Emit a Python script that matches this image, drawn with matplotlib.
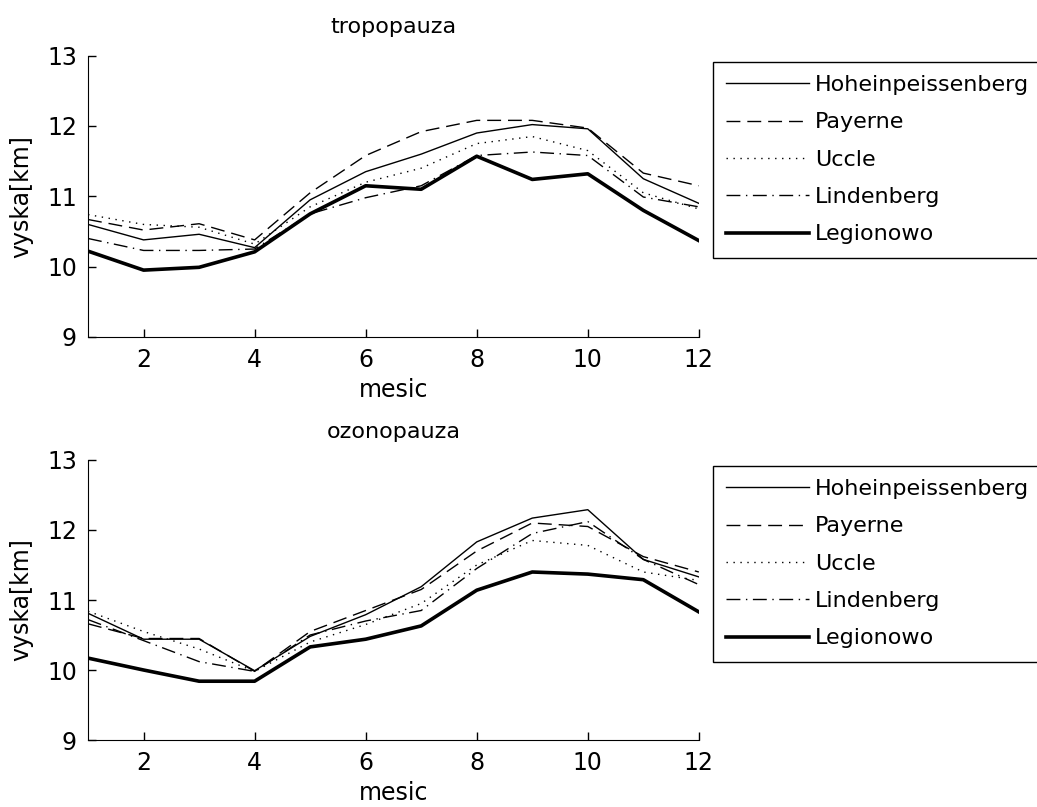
import numpy as np
import matplotlib.pyplot as plt

plt.rcParams['font.family'] = ['DejaVu Sans']
plt.rcParams['font.size'] = 17

# mesice
months = np.arange(1, 13)
stations = ['Hoheinpeissenberg', 'Payerne', 'Uccle', 'Lindenberg', 'Legionowo']

# tropopauza [km]
tropo_hohein = [10.60, 10.38, 10.46, 10.27, 10.95, 11.35, 11.60, 11.90, 12.02, 11.96, 11.25, 10.90]
tropo_payerne = [10.67, 10.52, 10.61, 10.38, 11.05, 11.58, 11.92, 12.08, 12.08, 11.97, 11.33, 11.15]
tropo_uccle = [10.74, 10.60, 10.56, 10.32, 10.85, 11.20, 11.40, 11.75, 11.85, 11.65, 11.05, 10.82]
tropo_lindenberg = [10.40, 10.23, 10.23, 10.25, 10.75, 10.98, 11.15, 11.58, 11.63, 11.58, 10.99, 10.85]
tropo_legionowo = [10.22, 9.95, 9.99, 10.21, 10.75, 11.15, 11.10, 11.57, 11.24, 11.32, 10.80, 10.37]

# ozonopauza [km]
ozono_hohein = [10.81, 10.44, 10.44, 9.99, 10.48, 10.79, 11.19, 11.83, 12.17, 12.29, 11.58, 11.33]
ozono_payerne = [10.66, 10.45, 10.45, 9.98, 10.55, 10.85, 11.15, 11.70, 12.10, 12.05, 11.62, 11.40]
ozono_uccle = [10.84, 10.55, 10.30, 9.98, 10.40, 10.65, 10.95, 11.50, 11.85, 11.78, 11.40, 11.28]
ozono_lindenberg = [10.72, 10.42, 10.12, 9.98, 10.50, 10.70, 10.85, 11.45, 11.95, 12.12, 11.58, 11.22]
ozono_legionowo = [10.17, 10.00, 9.84, 9.84, 10.33, 10.44, 10.63, 11.14, 11.40, 11.37, 11.29, 10.83]

styles = [
    dict(lw=1.0, ls='-'),
    dict(lw=1.0, dashes=(10, 5)),
    dict(lw=1.0, dashes=(1, 4)),
    dict(lw=1.0, dashes=(10, 4, 1, 4)),
    dict(lw=2.6, ls='-'),
]

fig = plt.figure(figsize=(10.37, 8.07), dpi=100)
ax1 = fig.add_axes([0.0849, 0.5825, 0.589, 0.3485])
ax2 = fig.add_axes([0.0849, 0.083, 0.589, 0.347])


def kresli(ax, data, title, leg_y):
    for vals, name, st in zip(data, stations, styles):
        ax.plot(months, vals, color='black', label=name, **st)
    ax.set_xlim(1, 12)
    ax.set_ylim(9, 13)
    ax.set_xticks([2, 4, 6, 8, 10, 12])
    ax.set_yticks([9, 10, 11, 12, 13])
    ax.spines['top'].set_visible(False)
    ax.spines['right'].set_visible(False)
    ax.tick_params(direction='in', length=6, width=1, pad=8)
    ax.set_xlabel('mesic', labelpad=4)
    ax.set_ylabel('vyska[km]', labelpad=10)
    ax.set_title(title, pad=16, fontsize=16)
    leg = ax.legend(loc='upper left', bbox_to_anchor=(0.6876, leg_y),
                    bbox_transform=fig.transFigure, fancybox=False,
                    edgecolor='black', framealpha=1, handlelength=3.7,
                    handletextpad=0.3, labelspacing=0.78, borderpad=0.6,
                    borderaxespad=0, fontsize=16)
    leg.get_frame().set_linewidth(1.0)


kresli(ax1, [tropo_hohein, tropo_payerne, tropo_uccle, tropo_lindenberg, tropo_legionowo],
       'tropopauza', 1 - 61.7 / 807)
kresli(ax2, [ozono_hohein, ozono_payerne, ozono_uccle, ozono_lindenberg, ozono_legionowo],
       'ozonopauza', 1 - 465.7 / 807)

fig.savefig('out.png', dpi=100)
